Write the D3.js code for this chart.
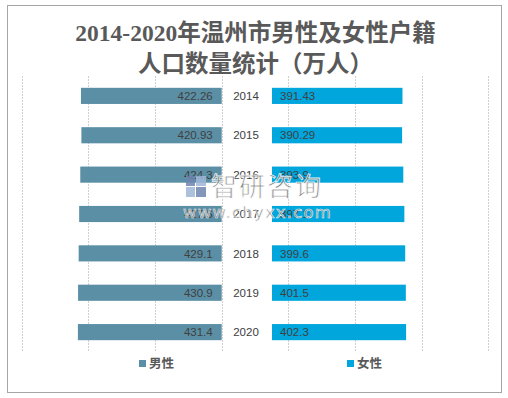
<!DOCTYPE html>
<html>
<head>
<meta charset="utf-8">
<script src="https://cdn.jsdelivr.net/npm/d3@7"></script>
<style>
  body { margin: 0; background: #fff; }
  text { font-family: "Liberation Sans", "Noto Sans CJK SC", sans-serif; }
</style>
</head>
<body>
<div id="chart"></div>
<script>
// ---------------- DATA ----------------
var years = ["2014", "2015", "2016", "2017", "2018", "2019", "2020"];
var male = [422.26, 420.93, 424.3, 427.6, 429.1, 430.9, 431.4];
var female = [391.43, 390.29, 393.9, 397.1, 399.6, 401.5, 402.3];
var maleLabels = ["422.26", "420.93", "424.3", "427.6", "429.1", "430.9", "431.4"];
var femaleLabels = ["391.43", "390.29", "393.9", "397.1", "399.6", "401.5", "402.3"];
var seriesNames = ["男性", "女性"];

(function() {
    var width = 508, height = 398;
    var maleColor = "#5b8fa6", femaleColor = "#00a6dc";

    var svg = d3.select("#chart").append("svg")
        .attr("width", width)
        .attr("height", height);

    // outer frame
    svg.append("rect")
        .attr("x", 7.5).attr("y", 5.5)
        .attr("width", 494).attr("height", 387)
        .attr("fill", "#fff")
        .attr("stroke", "#a6a6a6");

    // title
    var title = svg.append("text")
        .attr("text-anchor", "middle")
        .attr("fill", "#595959")
        .style("font-family", "'Liberation Serif', 'Noto Sans CJK SC', serif")
        .style("font-weight", "bold")
        .style("font-size", "23.5px");
    title.append("tspan").attr("x", 255.5).attr("y", 41).text("2014-2020年温州市男性及女性户籍");
    title.append("tspan").attr("x", 255.5).attr("y", 72).text("人口数量统计（万人）");

    // y band for years
    var y = d3.scaleBand().domain(years).range([76, 352]).paddingInner(0.59).paddingOuter(0.3);

    // grid lines across the plot
    var grid = d3.scaleLinear().domain([0, 7]).range([21.7, 488.3]);
    svg.append("g").selectAll("line")
        .data(d3.range(0, 8))
        .enter().append("line")
        .attr("x1", function(d) { return Math.round(grid(d)) + 0.5; })
        .attr("x2", function(d) { return Math.round(grid(d)) + 0.5; })
        .attr("y1", 76).attr("y2", 352)
        .attr("stroke", "#d0d0d0")
        .attr("stroke-dasharray", "2,1");

    // left (male) and right (female) scales
    var xLeft = d3.scaleLinear().domain([0, 600]).range([221.7, 21.7]);
    var xRight = d3.scaleLinear().domain([0, 600]).range([272, 472]);

    var rows = years.map(function(yr, i) {
        return { year: yr, m: male[i], f: female[i], ml: maleLabels[i], fl: femaleLabels[i] };
    });

    svg.append("g").selectAll("rect")
        .data(rows)
        .enter().append("rect")
        .attr("x", function(d) { return xLeft(d.m); })
        .attr("y", function(d) { return y(d.year); })
        .attr("width", function(d) { return xLeft(0) - xLeft(d.m); })
        .attr("height", y.bandwidth())
        .attr("fill", maleColor);

    svg.append("g").selectAll("rect")
        .data(rows)
        .enter().append("rect")
        .attr("x", xRight(0))
        .attr("y", function(d) { return y(d.year); })
        .attr("width", function(d) { return xRight(d.f) - xRight(0); })
        .attr("height", y.bandwidth())
        .attr("fill", femaleColor);

    // value labels
    var labels = svg.append("g").style("font-size", "11.5px").attr("fill", "#404040");
    labels.selectAll(".ml").data(rows).enter().append("text")
        .attr("class", "ml")
        .attr("x", xLeft(0) - 9)
        .attr("y", function(d) { return y(d.year) + y.bandwidth() / 2; })
        .attr("dy", "0.36em")
        .attr("text-anchor", "end")
        .text(function(d) { return d.ml; });
    labels.selectAll(".fl").data(rows).enter().append("text")
        .attr("class", "fl")
        .attr("x", xRight(0) + 8)
        .attr("y", function(d) { return y(d.year) + y.bandwidth() / 2; })
        .attr("dy", "0.36em")
        .text(function(d) { return d.fl; });
    labels.selectAll(".yr").data(rows).enter().append("text")
        .attr("class", "yr")
        .attr("x", 246)
        .attr("y", function(d) { return y(d.year) + y.bandwidth() / 2; })
        .attr("dy", "0.36em")
        .attr("text-anchor", "middle")
        .text(function(d) { return d.year; });

    // legend
    var legend = svg.append("g");
    var legendX = [139, 347];
    var legendColors = [maleColor, femaleColor];
    seriesNames.forEach(function(name, i) {
        legend.append("rect")
            .attr("x", legendX[i]).attr("y", 360)
            .attr("width", 7).attr("height", 7)
            .attr("fill", legendColors[i]);
        legend.append("text")
            .attr("x", legendX[i] + 10).attr("y", 368)
            .attr("fill", "#595959")
            .style("font-size", "12.5px")
            .style("font-weight", "bold")
            .style("font-family", "'Noto Sans CJK SC', sans-serif")
            .text(name);
    });

    // watermark
    var wm = svg.append("g").attr("opacity", 0.85);
    wm.append("rect").attr("x", 186).attr("y", 176).attr("width", 9).attr("height", 10).attr("fill", "#6f86b0");
    wm.append("rect").attr("x", 196).attr("y", 176).attr("width", 10).attr("height", 10).attr("fill", "#9fb7d8");
    wm.append("rect").attr("x", 186).attr("y", 187).attr("width", 9).attr("height", 10).attr("fill", "#9fb7d8");
    wm.append("rect").attr("x", 196).attr("y", 187).attr("width", 10).attr("height", 10).attr("fill", "#6f86b0");
    wm.append("text")
        .attr("x", 211).attr("y", 196)
        .attr("fill", "#767676")
        .attr("stroke", "#fff").attr("stroke-width", 0.8)
        .style("font-family", "'Noto Sans CJK SC', sans-serif")
        .style("font-size", "26px")
        .style("letter-spacing", "2px")
        .text("智研咨询");
    wm.append("text")
        .attr("x", 183).attr("y", 218)
        .attr("fill", "#767676")
        .attr("stroke", "#fff").attr("stroke-width", 0.6)
        .style("font-family", "'DejaVu Sans', sans-serif")
        .style("font-size", "16.5px")
        .style("letter-spacing", "1.2px")
        .text("www.chyxx.com");
})();
</script>
</body>
</html>
